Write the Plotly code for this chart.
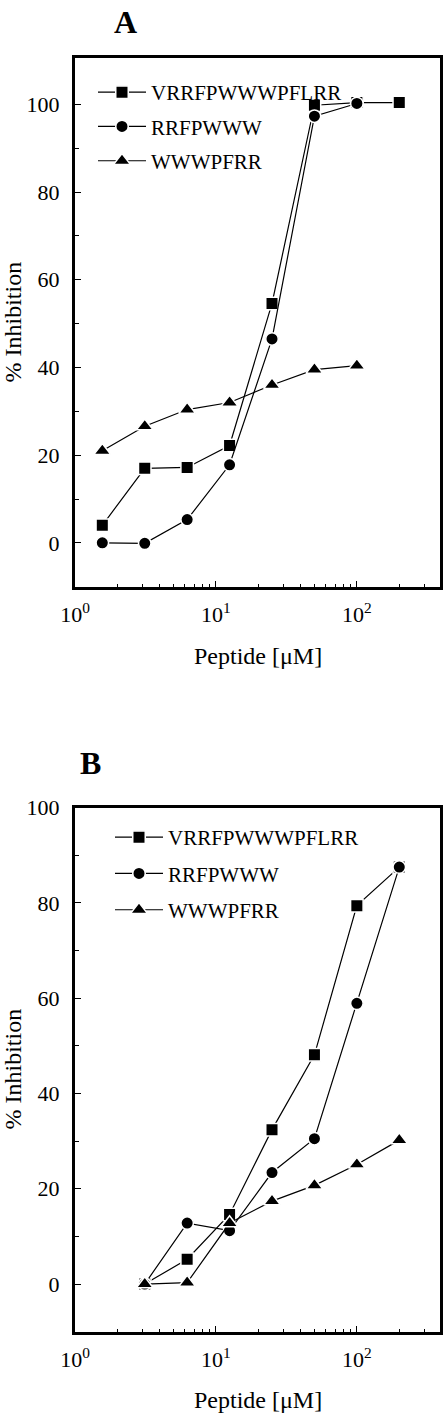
import math
import plotly.graph_objects as go

# ---------------- data ----------------
series_names = ["VRRFPWWWPFLRR", "RRFPWWW", "WWWPFRR"]

conc_a = [1.5625, 3.125, 6.25, 12.5, 25, 50, 100, 200]
vrr_a = [4.0, 17.0, 17.2, 22.2, 54.6, 99.8, 100.4, 100.4]
rrf_a = [0.0, -0.1, 5.3, 17.8, 46.5, 97.3, 100.2]
www_a = [21.0, 26.6, 30.4, 32.0, 36.0, 39.5, 40.4]

conc_b = [3.125, 6.25, 12.5, 25, 50, 100, 200]
vrr_b = [0.0, 5.2, 14.6, 32.4, 48.1, 79.4, 87.5]
rrf_b = [0.0, 12.8, 11.2, 23.4, 30.5, 58.9, 87.5]
www_b = [0.0, 0.3, 12.8, 17.4, 20.7, 25.1, 30.2]

x_tickvals = [1, 10, 100]
x_ticktext = ["10<sup>0</sup>", "10<sup>1</sup>", "10<sup>2</sup>"]
x_minor = [2, 3, 4, 5, 6, 7, 8, 9, 20, 30, 40, 50, 60, 70, 80, 90, 200, 300]
y_tickvals = [0, 20, 40, 60, 80, 100]
y_minor = [10, 30, 50, 70, 90]

panel_labels = ["A", "B"]
x_title = "Peptide [\u03bcM]"
y_title = "% Inhibition"

# ---------------- layout geometry ----------------
W, H = 444, 1417
FONT = "Liberation Serif"

def px_x(p):
    return p / W

def px_y(p):
    return 1 - p / H

x_dom = [px_x(75), px_x(440)]
ya_dom = [px_y(586.7), px_y(58.3)]
yb_dom = [px_y(1331.7), px_y(807.5)]

symbols = ["square", "circle", "triangle-up"]
sizes = [12.5, 12.5, 14.5]

fig = go.Figure()

def add_panel(xs, ys_list, xref, yref, legend_name):
    for name, ys, sym, sz in zip(series_names, ys_list, symbols, sizes):
        fig.add_trace(go.Scatter(
            x=xs[:len(ys)], y=ys, name=name, mode="lines+markers",
            line=dict(color="black", width=1.2),
            marker=dict(symbol=sym, size=sz, color="black",
                        line=dict(color="white", width=1.5)),
            xaxis=xref, yaxis=yref, legend=legend_name,
            legendgroup=legend_name + name,
        ))

add_panel(conc_a, [vrr_a, rrf_a, www_a], "x", "y", "legend")
add_panel(conc_b, [vrr_b, rrf_b, www_b], "x2", "y2", "legend2")

xaxis_common = dict(
    type="log", range=[0, 2.59], domain=x_dom, automargin=False,
    showline=True, linecolor="black", linewidth=3, mirror=True,
    ticks="inside", ticklen=6, tickwidth=1.2, tickcolor="black",
    tickmode="array", tickvals=x_tickvals, ticktext=x_ticktext,
    minor=dict(tickmode="array", tickvals=x_minor, ticks="inside", ticklen=3,
               tickwidth=1, tickcolor="black", showgrid=False),
    showgrid=False, zeroline=False,
    tickfont=dict(family=FONT, size=22, color="black"),
    ticklabelstandoff=6,
)
yaxis_common = dict(
    automargin=False,
    showline=True, linecolor="black", linewidth=3, mirror=True,
    ticks="inside", ticklen=6, tickwidth=1.2, tickcolor="black",
    tickmode="array", tickvals=y_tickvals,
    minor=dict(tickmode="array", tickvals=y_minor, ticks="inside", ticklen=4,
               tickwidth=1, tickcolor="black", showgrid=False),
    showgrid=False, zeroline=False,
    tickfont=dict(family=FONT, size=22, color="black"),
    ticklabelstandoff=8,
)

legend_common = dict(
    font=dict(family=FONT, size=21, color="black"),
    bgcolor="rgba(0,0,0,0)", borderwidth=0,
    xanchor="left", yanchor="top",
    itemwidth=48, traceorder="grouped",
    itemclick=False,
)

fig.update_layout(
    template="none",
    width=W, height=H,
    margin=dict(l=0, r=0, t=0, b=0, pad=0, autoexpand=False),
    paper_bgcolor="white", plot_bgcolor="white",
    showlegend=True,
    xaxis=dict(**xaxis_common, anchor="y"),
    yaxis=dict(**yaxis_common, range=[-10, 110.5], domain=ya_dom, anchor="x"),
    xaxis2=dict(**xaxis_common, anchor="y2"),
    yaxis2=dict(**yaxis_common, range=[-10, 100], domain=yb_dom, anchor="x2"),
    legend=dict(**legend_common, tracegroupgap=4, x=px_x(93), y=px_y(72)),
    legend2=dict(**legend_common, tracegroupgap=6, x=px_x(110), y=px_y(817)),
)

annotations = []
# panel labels
for lab, (cx, cy) in zip(panel_labels, [(125, 22), (90.5, 762.5)]):
    annotations.append(dict(text="<b>" + lab + "</b>", x=px_x(cx), y=px_y(cy),
                            xref="paper", yref="paper", showarrow=False,
                            xanchor="center", yanchor="middle",
                            font=dict(family=FONT, size=32, color="black")))
# axis titles
for cy in [322.5, 1069.5]:
    annotations.append(dict(text=y_title, x=px_x(12), y=px_y(cy),
                            xref="paper", yref="paper", showarrow=False,
                            textangle=-90, xanchor="center", yanchor="middle",
                            font=dict(family=FONT, size=24, color="black")))
for cy in [656, 1400]:
    annotations.append(dict(text=x_title, x=px_x(257.5), y=px_y(cy),
                            xref="paper", yref="paper", showarrow=False,
                            xanchor="center", yanchor="middle",
                            font=dict(family=FONT, size=24, color="black")))
fig.update_layout(annotations=annotations)

fig.write_html(
    "out.html",
    config={"displayModeBar": False},
    post_script="document.body.style.margin='0';document.body.style.overflow='hidden';",
)
